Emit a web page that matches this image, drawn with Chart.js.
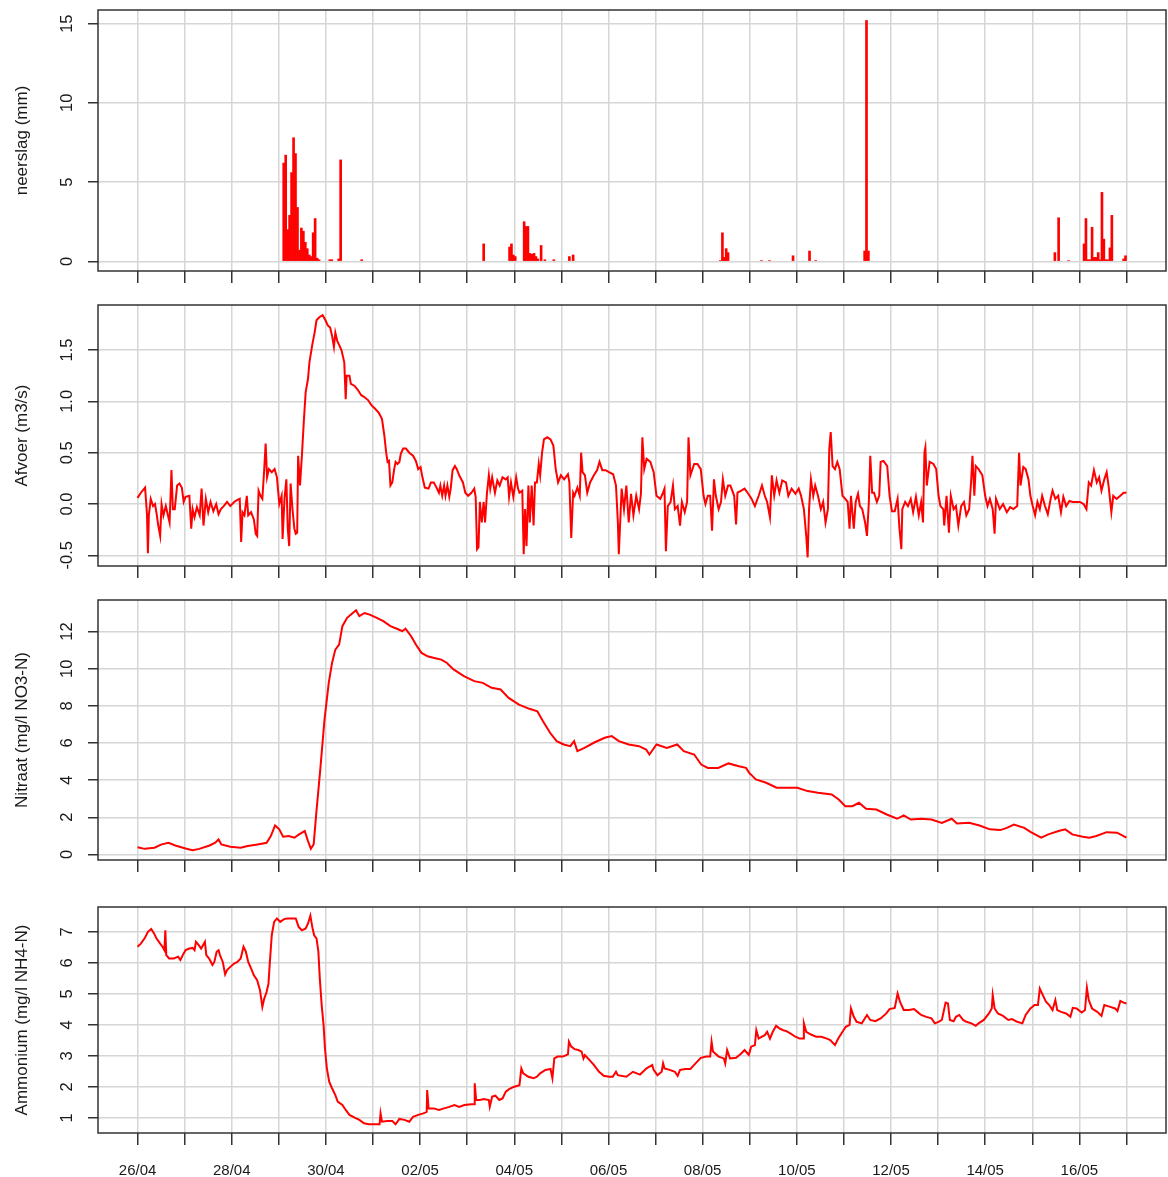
<!DOCTYPE html>
<html><head><meta charset="utf-8">
<script src="https://cdn.jsdelivr.net/npm/chart.js@4.4.1/dist/chart.umd.min.js"></script>
<style>
html,body{margin:0;padding:0;background:#fff;width:1168px;height:1177px;overflow:hidden}
canvas{position:absolute;left:0}
</style></head><body>
<canvas id="c1"></canvas><canvas id="c2"></canvas><canvas id="c3"></canvas><canvas id="c4"></canvas>
<script>
// ---- x axis: days since 26/04 ----
const dayTicks = [0,1,2,3,4,5,6,7,8,9,10,11,12,13,14,15,16,17,18,19,20,21];
const dayLabels = ['26/04','','28/04','','30/04','','02/05','','04/05','','06/05','','08/05','','10/05','','12/05','','14/05','','16/05',''];

// ---- y ticks ----
const rainTicks = [0,5,10,15];
const rainTickLabels = ['0','5','10','15'];
const flowTicks = [-0.5,0,0.5,1,1.5];
const flowTickLabels = ['-0.5','0.0','0.5','1.0','1.5'];
const no3Ticks = [0,2,4,6,8,10,12];
const no3TickLabels = ['0','2','4','6','8','10','12'];
const nh4Ticks = [1,2,3,4,5,6,7];
const nh4TickLabels = ['1','2','3','4','5','6','7'];

const titles = ['neerslag (mm)','Afvoer (m3/s)','Nitraat (mg/l NO3-N)','Ammonium (mg/l NH4-N)'];

// ---- neerslag (hourly, mm) [day, value] ----
const rain = [
[3.104,6.2],[3.146,6.7],[3.188,2.0],[3.229,2.9],[3.271,5.6],[3.313,7.8],[3.354,6.8],[3.396,3.4],[3.438,0.7],
[3.479,2.1],[3.521,1.9],[3.563,1.2],[3.604,0.8],[3.646,0.4],[3.688,0.3],[3.729,1.8],[3.771,2.7],[3.813,0.2],[3.854,0.1],
[4.083,0.1],[4.125,0.1],[4.271,0.15],[4.313,6.4],[4.76,0.1],
[7.35,1.1],[7.90,0.9],[7.94,1.1],[7.98,0.4],[8.02,0.3],[8.21,2.5],[8.25,2.2],[8.29,2.2],[8.33,0.5],[8.375,0.45],
[8.42,0.5],[8.46,0.3],[8.50,0.15],[8.57,1.0],[8.65,0.1],[8.84,0.1],[9.17,0.3],[9.25,0.4],
[12.375,0.05],[12.42,1.8],[12.46,0.25],[12.50,0.8],[12.54,0.55],[13.25,0.05],[13.42,0.05],[13.92,0.35],[14.27,0.65],[14.40,0.05],
[15.44,0.65],[15.48,15.2],[15.52,0.65],
[19.48,0.55],[19.56,2.75],[19.77,0.05],[20.10,1.1],[20.14,2.7],[20.19,0.1],[20.23,0.1],[20.27,2.15],[20.31,0.25],[20.35,0.25],
[20.40,0.55],[20.44,0.1],[20.48,4.35],[20.52,1.4],[20.56,0.1],[20.60,0.1],[20.65,0.85],[20.69,2.9],[20.94,0.15],[20.98,0.35]
];

// ---- afvoer (m3/s) [day, value] ----
const flow = [
[0.00,0.06],[0.07,0.11],[0.16,0.16],[0.20,-0.10],[0.22,-0.48],[0.24,-0.11],[0.28,0.05],[0.33,-0.02],[0.37,0.00],[0.40,-0.08],
[0.44,-0.21],[0.48,-0.31],[0.51,0.00],[0.55,-0.11],[0.60,-0.02],[0.64,-0.10],[0.68,-0.18],[0.72,0.33],[0.75,-0.05],[0.79,-0.05],
[0.84,0.18],[0.89,0.20],[0.94,0.16],[0.98,0.02],[1.02,0.07],[1.10,0.08],[1.14,-0.24],[1.17,-0.05],[1.21,-0.13],[1.26,-0.03],
[1.32,-0.11],[1.36,0.15],[1.40,-0.21],[1.45,0.05],[1.50,-0.08],[1.55,0.02],[1.61,-0.07],[1.67,0.00],[1.72,-0.10],[1.77,-0.05],
[1.83,-0.02],[1.90,0.02],[1.97,-0.02],[2.05,0.02],[2.12,0.04],[2.17,0.05],[2.20,-0.37],[2.23,-0.08],[2.27,-0.11],[2.32,0.08],
[2.35,-0.11],[2.41,-0.08],[2.47,-0.15],[2.51,-0.29],[2.54,-0.31],[2.57,0.13],[2.61,0.08],[2.65,0.05],[2.69,0.34],[2.72,0.59],
[2.75,0.26],[2.79,0.34],[2.85,0.31],[2.91,0.34],[2.96,0.26],[3.01,0.00],[3.06,0.08],[3.08,-0.34],[3.12,0.05],[3.16,0.24],
[3.19,-0.24],[3.22,-0.41],[3.25,0.20],[3.29,-0.05],[3.33,-0.24],[3.36,-0.29],[3.39,-0.28],[3.41,0.47],[3.45,0.18],[3.49,0.47],
[3.53,0.80],[3.57,1.09],[3.62,1.22],[3.65,1.38],[3.71,1.55],[3.76,1.67],[3.80,1.79],[3.86,1.82],[3.93,1.84],[3.98,1.80],
[4.04,1.74],[4.09,1.72],[4.13,1.64],[4.17,1.53],[4.20,1.67],[4.24,1.59],[4.28,1.55],[4.33,1.50],[4.39,1.38],[4.42,1.02],
[4.44,1.25],[4.50,1.25],[4.53,1.17],[4.61,1.15],[4.68,1.11],[4.75,1.06],[4.82,1.04],[4.90,1.01],[4.97,0.96],[5.04,0.93],
[5.12,0.89],[5.19,0.83],[5.24,0.67],[5.28,0.50],[5.31,0.41],[5.34,0.42],[5.37,0.18],[5.41,0.21],[5.45,0.34],[5.48,0.41],
[5.52,0.39],[5.56,0.41],[5.59,0.49],[5.64,0.54],[5.70,0.54],[5.77,0.50],[5.85,0.47],[5.91,0.42],[5.96,0.34],[6.01,0.36],
[6.05,0.26],[6.10,0.16],[6.18,0.15],[6.23,0.21],[6.29,0.21],[6.35,0.16],[6.40,0.11],[6.43,0.18],[6.47,0.08],[6.51,0.18],
[6.54,0.08],[6.58,0.18],[6.62,0.07],[6.65,0.15],[6.69,0.33],[6.74,0.37],[6.78,0.34],[6.83,0.28],[6.91,0.21],[6.96,0.11],
[7.02,0.08],[7.09,0.11],[7.15,0.15],[7.18,0.07],[7.21,-0.44],[7.24,-0.42],[7.27,0.02],[7.31,-0.18],[7.35,0.02],[7.38,-0.18],
[7.42,0.11],[7.46,0.28],[7.49,0.15],[7.53,0.26],[7.59,0.11],[7.64,0.23],[7.69,0.18],[7.75,0.26],[7.82,0.24],[7.86,0.26],
[7.89,0.07],[7.93,0.21],[7.98,0.07],[8.04,0.26],[8.08,0.15],[8.11,0.11],[8.17,0.13],[8.20,-0.49],[8.23,-0.05],[8.26,-0.41],
[8.30,0.18],[8.33,-0.18],[8.37,0.18],[8.41,-0.21],[8.44,0.21],[8.48,0.21],[8.52,0.39],[8.55,0.28],[8.59,0.50],[8.63,0.63],
[8.70,0.65],[8.77,0.63],[8.83,0.57],[8.88,0.34],[8.93,0.21],[8.99,0.28],[9.06,0.24],[9.14,0.29],[9.17,0.21],[9.21,-0.33],
[9.25,0.11],[9.28,0.08],[9.34,0.16],[9.39,0.08],[9.42,0.50],[9.45,0.31],[9.50,0.28],[9.55,0.11],[9.61,0.21],[9.69,0.28],
[9.76,0.33],[9.81,0.41],[9.87,0.33],[9.94,0.33],[10.01,0.31],[10.10,0.29],[10.16,0.18],[10.20,-0.18],[10.22,-0.49],[10.28,0.15],
[10.33,-0.05],[10.38,0.18],[10.43,-0.18],[10.48,0.10],[10.53,-0.11],[10.59,0.08],[10.65,-0.05],[10.69,0.10],[10.72,0.65],[10.76,0.34],
[10.81,0.44],[10.89,0.41],[10.96,0.31],[11.02,0.08],[11.10,0.05],[11.15,0.10],[11.19,0.15],[11.22,-0.46],[11.26,-0.02],[11.32,0.02],
[11.37,0.18],[11.41,-0.05],[11.47,-0.02],[11.52,-0.21],[11.56,0.02],[11.62,-0.08],[11.67,0.02],[11.70,0.65],[11.74,0.28],[11.82,0.39],
[11.89,0.39],[11.96,0.34],[12.02,0.08],[12.06,0.00],[12.11,0.08],[12.16,0.08],[12.20,-0.26],[12.24,0.24],[12.28,0.08],[12.34,-0.05],
[12.39,0.02],[12.43,0.24],[12.48,0.08],[12.54,0.18],[12.59,0.18],[12.67,0.08],[12.71,-0.20],[12.74,0.11],[12.82,0.13],[12.89,0.15],
[12.97,0.10],[13.04,0.05],[13.11,-0.02],[13.19,0.08],[13.26,0.18],[13.32,0.08],[13.37,0.02],[13.43,-0.13],[13.47,0.28],[13.52,0.08],
[13.57,0.23],[13.63,0.11],[13.69,0.23],[13.77,0.21],[13.82,0.08],[13.89,0.15],[13.97,0.10],[14.04,0.15],[14.09,0.08],[14.15,-0.05],
[14.20,-0.31],[14.23,-0.52],[14.26,-0.05],[14.30,0.24],[14.35,0.08],[14.39,0.18],[14.45,0.08],[14.51,-0.05],[14.56,0.02],[14.61,-0.18],
[14.66,-0.05],[14.69,0.54],[14.72,0.70],[14.76,0.37],[14.81,0.34],[14.86,0.41],[14.91,0.34],[14.97,0.08],[15.03,0.05],[15.08,0.02],
[15.12,-0.24],[15.15,0.08],[15.21,-0.24],[15.25,0.02],[15.30,0.10],[15.34,-0.02],[15.39,-0.05],[15.45,-0.18],[15.49,-0.31],[15.53,0.02],
[15.56,0.47],[15.60,0.11],[15.64,0.11],[15.70,0.02],[15.75,0.08],[15.78,0.41],[15.84,0.42],[15.92,0.37],[15.97,0.08],[16.02,-0.07],
[16.08,-0.07],[16.14,0.05],[16.18,-0.24],[16.22,-0.44],[16.24,-0.05],[16.30,0.02],[16.36,-0.02],[16.42,0.05],[16.47,-0.08],[16.53,0.07],
[16.59,-0.11],[16.64,0.02],[16.68,-0.18],[16.71,0.50],[16.73,0.55],[16.76,0.18],[16.82,0.41],[16.90,0.39],[16.96,0.34],[17.01,0.08],
[17.05,-0.02],[17.11,-0.05],[17.13,-0.21],[17.18,0.08],[17.23,-0.28],[17.27,0.08],[17.33,-0.05],[17.38,-0.02],[17.43,-0.21],[17.49,-0.02],
[17.55,0.02],[17.60,-0.11],[17.66,-0.05],[17.70,0.21],[17.73,0.47],[17.77,0.08],[17.80,0.37],[17.86,0.34],[17.94,0.28],[18.00,0.08],
[18.05,-0.02],[18.10,0.05],[18.16,-0.05],[18.20,-0.29],[18.23,0.05],[18.31,-0.05],[18.38,0.00],[18.46,-0.08],[18.53,-0.03],[18.60,-0.05],
[18.68,-0.02],[18.72,0.50],[18.75,0.18],[18.81,0.36],[18.86,0.34],[18.92,0.24],[18.96,0.08],[19.01,-0.02],[19.06,-0.11],[19.11,0.02],
[19.16,-0.05],[19.21,0.08],[19.27,-0.02],[19.33,-0.10],[19.39,0.05],[19.43,0.13],[19.49,0.05],[19.55,0.08],[19.61,-0.08],[19.66,0.07],
[19.72,-0.02],[19.79,0.03],[19.86,0.02],[19.94,0.02],[20.01,0.02],[20.09,0.00],[20.15,-0.05],[20.20,0.21],[20.25,0.18],[20.31,0.33],
[20.37,0.21],[20.42,0.26],[20.47,0.13],[20.53,0.24],[20.58,0.31],[20.62,0.18],[20.68,-0.08],[20.72,0.08],[20.79,0.05],[20.87,0.08],
[20.94,0.11],[21.00,0.11]
];

// ---- nitraat (mg/l NO3-N) [day, value] ----
const nitrate = [
[0,0.39],[0.15,0.30],[0.36,0.36],[0.51,0.54],[0.66,0.63],[0.80,0.48],[1.02,0.32],[1.17,0.23],[1.31,0.30],[1.53,0.48],
[1.65,0.63],[1.72,0.81],[1.78,0.54],[1.97,0.41],[2.19,0.36],[2.34,0.45],[2.55,0.54],[2.74,0.63],[2.83,0.99],[2.92,1.56],
[3.01,1.35],[3.09,0.95],[3.21,0.99],[3.33,0.90],[3.43,1.08],[3.55,1.26],[3.62,0.72],[3.68,0.30],[3.74,0.54],[3.79,2.06],
[3.88,4.57],[3.97,7.26],[4.06,9.24],[4.13,10.31],[4.20,11.03],[4.28,11.30],[4.35,12.29],[4.45,12.74],[4.57,13.00],[4.64,13.15],
[4.71,12.83],[4.82,13.00],[4.93,12.91],[5.08,12.74],[5.22,12.56],[5.37,12.29],[5.52,12.14],[5.62,12.02],[5.69,12.16],[5.81,11.75],
[5.91,11.30],[6.03,10.85],[6.16,10.67],[6.30,10.58],[6.45,10.49],[6.57,10.31],[6.71,9.96],[6.93,9.60],[7.15,9.33],[7.33,9.24],
[7.52,8.97],[7.71,8.88],[7.88,8.43],[8.10,8.07],[8.32,7.84],[8.49,7.71],[8.61,7.17],[8.76,6.55],[8.90,6.10],[9.05,5.92],
[9.19,5.83],[9.27,6.10],[9.34,5.56],[9.49,5.74],[9.71,6.04],[9.92,6.28],[10.07,6.37],[10.22,6.10],[10.43,5.92],[10.65,5.83],
[10.80,5.65],[10.87,5.38],[11.02,5.92],[11.24,5.74],[11.46,5.92],[11.60,5.56],[11.82,5.38],[11.97,4.84],[12.11,4.66],[12.33,4.66],
[12.55,4.90],[12.77,4.75],[12.92,4.66],[12.99,4.39],[13.13,4.04],[13.35,3.86],[13.57,3.59],[13.79,3.59],[14.01,3.59],[14.23,3.41],
[14.45,3.32],[14.74,3.23],[14.89,2.96],[15.03,2.60],[15.18,2.60],[15.32,2.78],[15.47,2.46],[15.69,2.42],[15.91,2.15],[16.13,1.92],
[16.27,2.10],[16.42,1.88],[16.64,1.92],[16.86,1.88],[17.08,1.70],[17.29,1.92],[17.40,1.67],[17.66,1.70],[17.88,1.56],[18.10,1.35],
[18.32,1.31],[18.46,1.43],[18.61,1.61],[18.83,1.43],[18.97,1.20],[19.19,0.90],[19.34,1.08],[19.56,1.26],[19.70,1.35],[19.85,1.08],
[20.07,0.95],[20.21,0.90],[20.36,0.99],[20.58,1.20],[20.80,1.17],[20.94,0.99],[21.00,0.90]
];

// ---- ammonium (mg/l NH4-N) [day, value] ----
const ammonium = [
[0.00,6.52],[0.07,6.62],[0.15,6.79],[0.22,7.00],[0.29,7.09],[0.35,6.95],[0.40,6.79],[0.48,6.62],[0.53,6.52],[0.57,6.41],
[0.59,7.05],[0.61,6.25],[0.67,6.14],[0.77,6.14],[0.86,6.20],[0.91,6.09],[0.96,6.25],[1.02,6.41],[1.10,6.46],[1.17,6.48],
[1.21,6.41],[1.24,6.68],[1.30,6.57],[1.35,6.46],[1.39,6.57],[1.43,6.68],[1.46,6.25],[1.52,6.14],[1.59,5.93],[1.63,6.03],
[1.68,6.36],[1.72,6.41],[1.75,6.25],[1.81,6.03],[1.86,5.63],[1.90,5.77],[1.97,5.87],[2.05,5.98],[2.12,6.03],[2.19,6.14],
[2.25,6.52],[2.30,6.36],[2.35,6.03],[2.41,5.82],[2.47,5.60],[2.54,5.44],[2.60,5.12],[2.65,4.58],[2.69,4.85],[2.74,5.06],
[2.78,5.33],[2.81,6.03],[2.85,6.89],[2.90,7.32],[2.96,7.43],[3.03,7.32],[3.11,7.41],[3.18,7.43],[3.29,7.43],[3.36,7.43],
[3.42,7.16],[3.49,7.05],[3.57,7.11],[3.62,7.27],[3.67,7.52],[3.71,7.16],[3.75,6.89],[3.80,6.79],[3.84,6.36],[3.87,5.50],
[3.91,4.64],[3.95,4.00],[3.98,3.24],[4.02,2.60],[4.07,2.17],[4.13,1.96],[4.20,1.74],[4.25,1.53],[4.35,1.42],[4.42,1.26],
[4.50,1.10],[4.61,1.01],[4.71,0.94],[4.81,0.83],[4.91,0.80],[5.04,0.80],[5.14,0.80],[5.16,1.15],[5.19,0.88],[5.30,0.90],
[5.41,0.90],[5.48,0.80],[5.56,0.97],[5.67,0.94],[5.77,0.88],[5.85,1.04],[5.96,1.10],[6.07,1.15],[6.14,1.20],[6.15,1.90],
[6.18,1.31],[6.29,1.31],[6.40,1.26],[6.51,1.31],[6.62,1.36],[6.73,1.42],[6.83,1.36],[6.94,1.42],[7.09,1.44],[7.15,1.44],
[7.16,2.12],[7.19,1.58],[7.27,1.58],[7.35,1.61],[7.46,1.58],[7.48,1.36],[7.53,1.69],[7.60,1.72],[7.68,1.58],[7.75,1.63],
[7.82,1.85],[7.89,1.93],[8.00,2.01],[8.11,2.06],[8.15,2.60],[8.19,2.44],[8.30,2.33],[8.41,2.28],[8.48,2.33],[8.55,2.44],
[8.66,2.55],[8.77,2.58],[8.81,2.28],[8.85,2.92],[8.92,2.98],[9.03,2.98],[9.14,3.05],[9.16,3.46],[9.21,3.30],[9.28,3.22],
[9.36,3.19],[9.43,3.14],[9.47,2.92],[9.50,3.03],[9.58,2.90],[9.69,2.71],[9.80,2.49],[9.90,2.36],[10.01,2.33],[10.09,2.33],
[10.16,2.49],[10.20,2.38],[10.38,2.33],[10.52,2.49],[10.67,2.40],[10.81,2.60],[10.93,2.71],[10.96,2.55],[11.04,2.38],[11.13,2.49],
[11.16,2.76],[11.19,2.60],[11.30,2.55],[11.41,2.49],[11.47,2.36],[11.52,2.55],[11.63,2.58],[11.74,2.58],[11.85,2.76],[11.96,2.94],
[12.08,2.98],[12.16,2.98],[12.19,3.46],[12.22,3.14],[12.34,2.98],[12.45,2.92],[12.48,2.76],[12.52,3.19],[12.58,2.92],[12.71,2.94],
[12.82,3.08],[12.89,3.19],[12.98,3.03],[13.03,3.30],[13.11,3.35],[13.14,3.83],[13.19,3.56],[13.26,3.62],[13.32,3.67],[13.37,3.78],
[13.43,3.56],[13.49,3.78],[13.56,3.97],[13.63,3.89],[13.71,3.83],[13.78,3.80],[13.87,3.72],[13.97,3.62],[14.06,3.56],[14.14,3.56],
[14.15,4.05],[14.20,3.78],[14.30,3.69],[14.41,3.62],[14.52,3.62],[14.64,3.56],[14.71,3.51],[14.81,3.35],[14.88,3.56],[14.97,3.78],
[15.04,3.94],[15.12,4.00],[15.15,4.53],[15.21,4.26],[15.27,4.10],[15.38,4.05],[15.49,4.32],[15.56,4.16],[15.67,4.12],[15.78,4.21],
[15.90,4.37],[15.97,4.51],[16.08,4.55],[16.14,5.01],[16.19,4.75],[16.27,4.48],[16.38,4.48],[16.49,4.51],[16.56,4.42],[16.64,4.32],
[16.75,4.26],[16.86,4.21],[16.93,4.05],[17.01,4.10],[17.08,4.16],[17.16,4.72],[17.21,4.69],[17.25,4.16],[17.33,4.12],[17.38,4.26],
[17.45,4.32],[17.53,4.16],[17.60,4.10],[17.71,4.05],[17.80,3.97],[17.86,4.05],[17.97,4.16],[18.08,4.37],[18.14,4.53],[18.16,4.96],
[18.20,4.53],[18.27,4.37],[18.38,4.29],[18.49,4.16],[18.57,4.19],[18.68,4.10],[18.79,4.05],[18.86,4.32],[18.96,4.53],[19.05,4.64],
[19.12,4.64],[19.16,5.17],[19.21,5.01],[19.29,4.75],[19.36,4.64],[19.43,4.48],[19.49,4.80],[19.53,4.48],[19.61,4.42],[19.72,4.37],
[19.81,4.26],[19.86,4.55],[19.94,4.53],[20.05,4.40],[20.12,4.48],[20.16,5.20],[20.20,4.80],[20.27,4.53],[20.38,4.42],[20.47,4.29],
[20.53,4.64],[20.64,4.59],[20.76,4.53],[20.81,4.45],[20.87,4.77],[20.94,4.72],[21.00,4.69]
];

// ---- rendering ----
const FONT = '"Liberation Sans", Arial, sans-serif';
const TXT = '#1a1a1a';
const FRAME = '#333333';
const GRID = '#d6d6d6';

const framePlugin = {
  id: 'frame',
  afterDatasetsDraw(chart) {
    const {ctx, chartArea: a} = chart;
    ctx.save();
    ctx.strokeStyle = FRAME; ctx.lineWidth = 1.5;
    ctx.strokeRect(a.left, a.top, a.right - a.left, a.bottom - a.top);
    ctx.restore();
  }
};
const yLabelPlugin = {
  id: 'ylabels',
  afterDraw(chart, args, opts) {
    const s = chart.scales.y, ctx = chart.ctx;
    ctx.save();
    ctx.fillStyle = TXT;
    ctx.font = opts.size + 'px ' + FONT;
    ctx.textAlign = 'center'; ctx.textBaseline = 'middle';
    opts.values.forEach((v, i) => {
      ctx.save();
      ctx.translate(opts.x, s.getPixelForValue(v));
      ctx.rotate(-Math.PI / 2);
      ctx.fillText(opts.labels[i], 0, 0);
      ctx.restore();
    });
    ctx.restore();
  }
};

function panel(id, cfg) {
  const cv = document.getElementById(id);
  cv.width = 1168; cv.height = cfg.h;
  cv.style.top = cfg.top + 'px';
  cv.style.width = '1168px'; cv.style.height = cfg.h + 'px';
  const ds = {
    data: cfg.series.map(p => ({x: p[0], y: p[1]})),
    borderColor: '#ff0000', backgroundColor: '#ff0000'
  };
  if (cfg.type === 'bar') {
    Object.assign(ds, {barThickness: 2, borderWidth: 0});
  } else {
    Object.assign(ds, {borderWidth: 2, pointRadius: 0, tension: 0, borderJoinStyle: 'miter'});
  }
  new Chart(cv, {
    type: cfg.type,
    data: {datasets: [ds]},
    plugins: [framePlugin, yLabelPlugin],
    options: {
      responsive: false, animation: false, devicePixelRatio: 1,
      layout: {padding: {top: 10, right: 2, left: 0, bottom: 0}},
      plugins: {
        legend: {display: false}, tooltip: {enabled: false},
        ylabels: {values: cfg.yTicks, labels: cfg.yLabels, x: 67, size: 16.5}
      },
      scales: {
        x: {
          type: 'linear', min: -0.84, max: 21.84, offset: false,
          afterBuildTicks: s => { s.ticks = dayTicks.map(v => ({value: v})); },
          afterFit: s => { s.height = cfg.xh; },
          grid: {color: GRID, lineWidth: 1.5, tickColor: FRAME, tickWidth: 1.5, tickLength: 12, drawTicks: true, offset: false},
          border: {display: false},
          ticks: {display: cfg.showX, autoSkip: false, maxRotation: 0, minRotation: 0, padding: 17,
                  color: TXT, font: {family: FONT, size: 15},
                  callback: (v, i) => dayLabels[i]}
        },
        y: {
          type: 'linear', min: cfg.yMin, max: cfg.yMax,
          afterBuildTicks: s => { s.ticks = cfg.yTicks.map(v => ({value: v})); },
          afterFit: s => { s.width = 98; },
          grid: {color: GRID, lineWidth: 1.5, tickColor: FRAME, tickWidth: 1.5, tickLength: 10, drawTicks: true},
          border: {display: false},
          ticks: {display: false},
          title: {display: true, text: cfg.title, color: TXT, font: {family: FONT, size: 17}, padding: {top: 12, bottom: 0}}
        }
      }
    }
  });
}

panel('c1', {top: 0, h: 300, xh: 29, type: 'bar', series: rain, yMin: -0.61, yMax: 15.86,
  yTicks: rainTicks, yLabels: rainTickLabels, title: titles[0], showX: false});
panel('c2', {top: 295, h: 300, xh: 29, type: 'line', series: flow, yMin: -0.604, yMax: 1.939,
  yTicks: flowTicks, yLabels: flowTickLabels, title: titles[1], showX: false});
panel('c3', {top: 590, h: 299, xh: 29, type: 'line', series: nitrate, yMin: -0.3, yMax: 13.7,
  yTicks: no3Ticks, yLabels: no3TickLabels, title: titles[2], showX: false});
panel('c4', {top: 897, h: 280, xh: 44, type: 'line', series: ammonium, yMin: 0.517, yMax: 7.80,
  yTicks: nh4Ticks, yLabels: nh4TickLabels, title: titles[3], showX: true});
</script>
</body></html>
